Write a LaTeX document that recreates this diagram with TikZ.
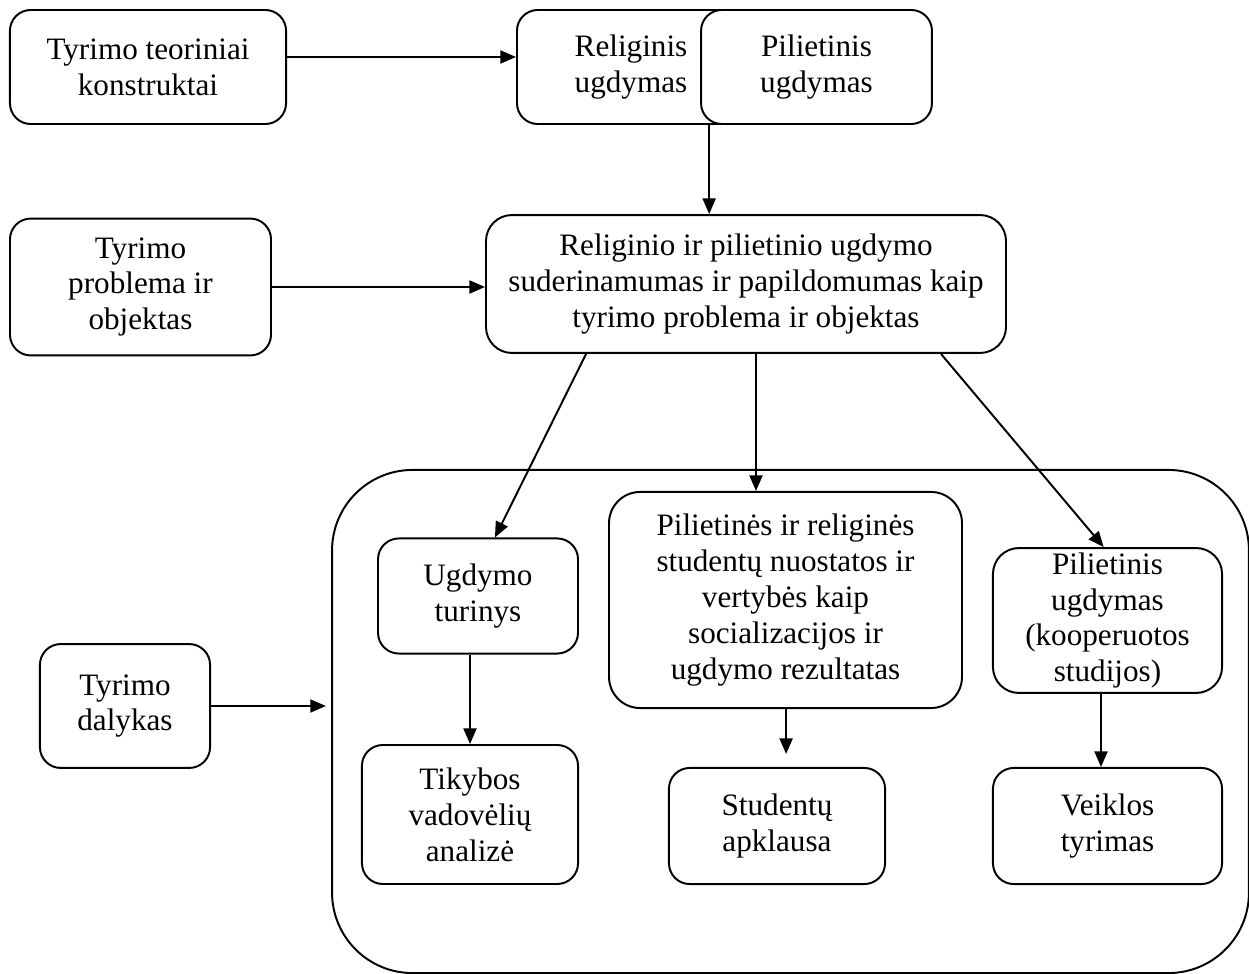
\documentclass[tikz,border=0pt]{standalone}
\usepackage{fontspec}
\setmainfont{Liberation Serif}
\usetikzlibrary{arrows.meta}
\begin{document}
\begin{tikzpicture}[x=0.385pt, y=-0.385pt,
  box/.style={draw, fill=white, line width=0.75pt, rounded corners=8pt, align=center,
    inner sep=0pt, font=\fontsize{12}{13.8}\selectfont},
  arr/.style={-{Triangle[length=6pt,width=5pt]}, line width=0.75pt}]
  \useasboundingbox (0,0) rectangle (1249,974);
  % top row
  \node[box, minimum width=106.3pt, minimum height=43.9pt] (konstr) at (148,67) {Tyrimo teoriniai\\konstruktai};
  \node[box, minimum width=87.8pt, minimum height=43.9pt] (relig) at (631,67) {Religinis\\ugdymas};
  \node[box, minimum width=88.9pt, minimum height=43.9pt] (pilet) at (816.5,67) {Pilietinis\\ugdymas};
  % problem row
  \node[box, minimum width=100.5pt, minimum height=52.7pt] (probl) at (140.5,287) {Tyrimo\\problema ir\\objektas};
  \node[box, rounded corners=10pt, minimum width=200.2pt, minimum height=53.1pt] (suder) at (746,284)
    {Religinio ir pilietinio ugdymo\\suderinamumas ir papildomumas kaip\\tyrimo problema ir objektas};
  % subject frame
  \node[draw, line width=0.75pt, rounded corners=31pt, minimum width=353pt, minimum height=193.7pt,
    inner sep=0pt] (frame) at (790.5,721.5) {};
  \node[box, minimum width=65.5pt, minimum height=47.7pt] (dalyk) at (125,706) {Tyrimo\\dalykas};
  \node[box, minimum width=77pt, minimum height=44.3pt] (turin) at (478,596) {Ugdymo\\turinys};
  \node[box, rounded corners=12pt, minimum width=135.9pt, minimum height=83.2pt] (nuost) at (785.5,600)
    {Pilietinės ir religinės\\studentų nuostatos ir\\vertybės kaip\\socializacijos ir\\ugdymo rezultatas};
  \node[box, rounded corners=10pt, minimum width=88.2pt, minimum height=55.8pt] (koop) at (1107.5,620.5)
    {Pilietinis\\ugdymas\\(kooperuotos\\studijos)};
  \node[box, minimum width=83.2pt, minimum height=53.5pt] (vadov) at (470,814.5) {Tikybos\\vadovėlių\\analizė};
  \node[box, minimum width=83.2pt, minimum height=44.7pt] (apkl) at (777,826) {Studentų\\apklausa};
  \node[box, minimum width=88.2pt, minimum height=44.7pt] (veikl) at (1107.5,826) {Veiklos\\tyrimas};
  % connectors
  \draw[arr] ([yshift=3.85pt]konstr.east) -- ([yshift=3.85pt]relig.west);
  \draw[arr] ([xshift=3.5pt]pilet.south west) -- ([xshift=3.5pt]pilet.south west |- suder.north);
  \draw[arr] (probl.east) -- (probl.east -| suder.west);
  \draw[arr] ([xshift=38.9pt]suder.south west) -- ([xshift=45.4pt]turin.north west);
  \draw[arr] ([xshift=3.85pt]suder.south) -- ([xshift=3.85pt]suder.south |- nuost.north);
  \draw[arr] ([xshift=-25.4pt]suder.south east) -- ([xshift=43pt]koop.north west);
  \draw[arr, shorten >=2pt] (dalyk.east) -- (dalyk.east -| frame.west);
  \draw[arr] (vadov.north |- turin.south) -- (vadov.north);
  \draw[arr, shorten >=5pt] ([xshift=3.5pt]apkl.north |- nuost.south) -- ([xshift=3.5pt]apkl.north);
  \draw[arr] ([xshift=-2.5pt]koop.south) -- ([xshift=-2.5pt]veikl.north);
\end{tikzpicture}
\end{document}
